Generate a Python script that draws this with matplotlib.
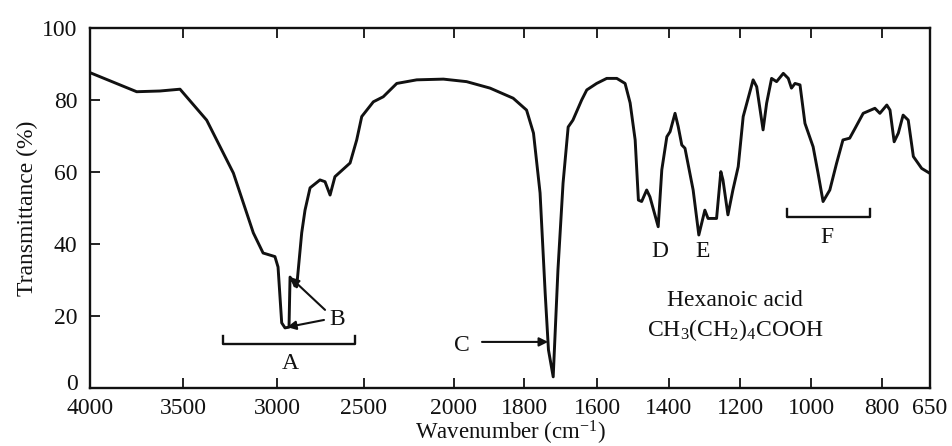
import numpy as np
import matplotlib
matplotlib.use("Agg")
import matplotlib.pyplot as plt
import matplotlib.transforms as mtransforms

# ---------------- data ----------------
wavenumber = [4000, 3749, 3624, 3516, 3374, 3232, 3126, 3074, 3011, 2994, 2973, 2954,
              2931, 2925, 2887, 2858, 2839, 2810, 2753, 2724, 2695, 2667, 2580, 2542,
              2513, 2448, 2393, 2318, 2207, 2059, 1964, 1897, 1831, 1793, 1774, 1756,
              1742, 1733, 1720, 1707, 1693, 1679, 1666, 1642, 1628, 1601, 1573, 1545,
              1522, 1508, 1494, 1485, 1476, 1462, 1453, 1430, 1420, 1406, 1397, 1383,
              1374, 1364, 1355, 1332, 1316, 1299, 1290, 1266, 1254, 1248, 1234, 1220,
              1205, 1191, 1163, 1153, 1135, 1125, 1111, 1097, 1078, 1064, 1055, 1045,
              1031, 1017, 994, 980, 966, 947, 928, 910, 891, 876, 853, 820, 806, 785,
              775, 762, 749, 734, 718, 702, 676, 650]
transmittance = [87.6, 82.3, 82.5, 83.0, 74.4, 59.7, 43.1, 37.5, 36.5, 33.6, 18.1, 16.7,
                 16.9, 30.8, 28.1, 43.1, 49.4, 55.6, 57.8, 57.3, 53.6, 58.7, 62.5, 68.9,
                 75.4, 79.5, 80.9, 84.6, 85.6, 85.8, 85.1, 83.3, 80.5, 77.2, 70.8, 54.2,
                 26.4, 10.6, 3.1, 32.8, 56.9, 72.5, 74.4, 80.0, 82.8, 84.6, 86.0, 86.0,
                 84.6, 79.2, 68.9, 52.2, 51.8, 55.0, 53.1, 44.8, 60.6, 69.8, 71.2, 76.3,
                 72.6, 67.5, 66.6, 55.0, 42.5, 49.4, 47.1, 47.1, 60.1, 57.8, 48.1, 55.0,
                 61.5, 75.4, 85.6, 83.7, 71.7, 79.1, 86.0, 85.1, 87.4, 86.0, 83.3, 84.6,
                 84.2, 73.5, 67.0, 59.6, 51.8, 55.0, 62.4, 68.9, 69.4, 72.1, 76.3, 77.7,
                 76.3, 78.6, 77.2, 68.4, 70.8, 75.8, 74.4, 64.3, 61.0, 59.6]

x_ticks = [4000, 3500, 3000, 2500, 2000, 1800, 1600, 1400, 1200, 1000, 800, 650]
x_tick_labels = ["4000", "3500", "3000", "2500", "2000", "1800", "1600", "1400",
                 "1200", "1000", "800", "650"]
y_ticks = [0, 20, 40, 60, 80, 100]

# printed axis: distance of each labelled wavenumber from the left edge (axis units)
axis_offsets = [0, 93, 187, 274, 364, 434, 507, 579, 650, 721, 792, 840]

# annotation labels
bracket_A = [3287, 2552]
bracket_A_level = 12.2
bracket_F = [1068, 834]
bracket_F_level = 47.5
labels = [("A", 2925, 6.9), ("B", 2655, 18.9), ("C", 1977, 11.9),
          ("D", 1425, 38.0), ("E", 1306, 38.0), ("F", 956, 41.9)]
arrows = [((2724, 21.7), (2925, 30.8)),
          ((2730, 18.9), (2942, 16.9)),
          ((1920, 12.8), (1734, 12.8))]
compound_name = "Hexanoic acid"
compound_formula = r"CH$_3$(CH$_2$)$_4$COOH"
compound_pos = (1214, 24.4, 16.1)

# ---------------- scale: piecewise linear as in the print ----------------
wn_asc = np.array(x_ticks[::-1], dtype=float)
t_asc = np.array([axis_offsets[-1] - o for o in axis_offsets][::-1], dtype=float)
s_lo = (t_asc[1] - t_asc[0]) / (wn_asc[1] - wn_asc[0])
s_hi = (t_asc[-1] - t_asc[-2]) / (wn_asc[-1] - wn_asc[-2])


def fwd(x):
    x = np.asarray(x, dtype=float)
    y = np.interp(x, wn_asc, t_asc)
    y = np.where(x < wn_asc[0], t_asc[0] + (x - wn_asc[0]) * s_lo, y)
    y = np.where(x > wn_asc[-1], t_asc[-1] + (x - wn_asc[-1]) * s_hi, y)
    return y


def inv(t):
    t = np.asarray(t, dtype=float)
    x = np.interp(t, t_asc, wn_asc)
    x = np.where(t < t_asc[0], wn_asc[0] + (t - t_asc[0]) / s_lo, x)
    x = np.where(t > t_asc[-1], wn_asc[-1] + (t - t_asc[-1]) / s_hi, x)
    return x


# ---------------- figure ----------------
plt.rcParams["font.family"] = ["Liberation Serif", "DejaVu Serif"]
plt.rcParams["mathtext.fontset"] = "custom"
plt.rcParams["mathtext.rm"] = "Liberation Serif"
plt.rcParams["mathtext.it"] = "Liberation Serif:italic"
plt.rcParams["mathtext.default"] = "rm"

FS = 17
INK = "#111111"

fig = plt.figure(figsize=(9.53, 4.46), dpi=100)
ax = fig.add_axes([90 / 953, 1 - 388 / 446, 840 / 953, 360 / 446])
ax.set_xscale("function", functions=(fwd, inv))
ax.set_xlim(4000, 650)
ax.set_ylim(0, 100)

ax.plot(wavenumber, transmittance, color=INK, lw=2.1, solid_joinstyle="round")

ax.set_xticks(x_ticks)
ax.set_xticklabels(x_tick_labels)
ax.set_yticks(y_ticks)
ax.minorticks_off()
ax.tick_params(axis="both", direction="in", length=7, width=1.3, colors=INK,
               labelsize=FS, labelcolor=INK)
ax.tick_params(axis="x", top=True, pad=7)
ax.tick_params(axis="y", right=False, pad=9)
for s in ax.spines.values():
    s.set_linewidth(1.7)
    s.set_color(INK)

# the printed "0" sits a little above the corner
fig.canvas.draw()
zero_label = ax.get_yticklabels()[0]
zero_label.set_transform(zero_label.get_transform() +
                         mtransforms.ScaledTranslation(0, 6 / 100, fig.dpi_scale_trans))

ax.set_xlabel(r"Wavenumber (cm$^{-1}$)", fontsize=16.5, color=INK, labelpad=0)
ax.set_ylabel("Transmittance (%)", fontsize=FS, color=INK, labelpad=3)

# brackets
for (x0, x1), lvl in ((bracket_A, bracket_A_level), (bracket_F, bracket_F_level)):
    ax.plot([x0, x0, x1, x1], [lvl + 2.2, lvl, lvl, lvl + 2.2], color=INK, lw=1.7)

for txt, x, y in labels:
    ax.text(x, y, txt, fontsize=FS, ha="center", va="center", color=INK)

for (xt, yt), (xh, yh) in arrows:
    ax.annotate("", xy=(xh, yh), xytext=(xt, yt),
                arrowprops=dict(arrowstyle="-|>", color=INK, lw=1.5,
                                mutation_scale=13, shrinkA=0, shrinkB=0))

cx, cy1, cy2 = compound_pos
ax.text(cx, cy1, compound_name, fontsize=FS, ha="center", va="center", color=INK)
ax.text(cx, cy2, compound_formula, fontsize=FS, ha="center", va="center", color=INK)

fig.savefig("out.png", dpi=100, facecolor="white")
